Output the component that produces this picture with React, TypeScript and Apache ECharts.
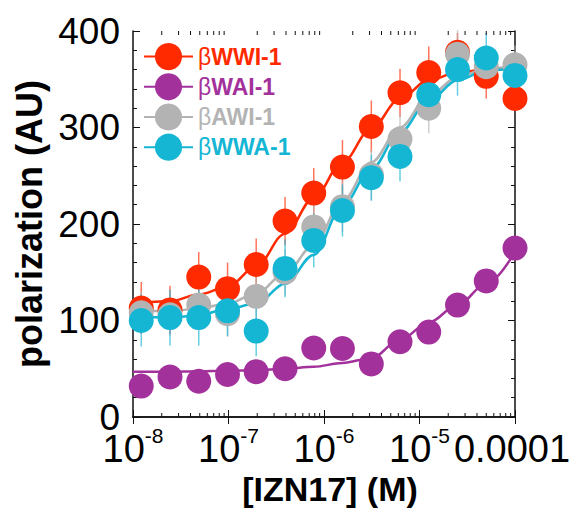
import React, { useEffect, useRef } from 'react';
import * as echarts from 'echarts';

const FONT = '"Liberation Sans", Arial, Helvetica, sans-serif';

// [IZN17] concentrations (M), two-fold dilution series
const concentrations = [1.22e-8, 2.44e-8, 4.88e-8, 9.77e-8, 1.95e-7, 3.91e-7, 7.81e-7, 1.56e-6, 3.13e-6, 6.25e-6, 1.25e-5, 2.5e-5, 5e-5, 1e-4];
// x positions at which the fitted curves were read
const curveX = [1e-8, 1.22e-8, 2.44e-8, 4.88e-8, 9.77e-8, 1.95e-7, 3.91e-7, 7.81e-7, 1.56e-6, 3.13e-6, 6.25e-6, 1.25e-5, 2.5e-5, 5e-5, 1e-4];

const seriesNames = ['βWWI-1', 'βWAI-1', 'βAWI-1', 'βWWA-1'];
const colors = ['#FF2A00', '#A3319B', '#B3B3B3', '#15B6D4'];

// measured polarization (AU)
const wwiValues = [113, 111, 145, 133, 158, 203, 232, 259, 301, 336, 357, 378, 353, 330];
const waiValues = [32, 41.5, 37, 44, 47, 50, 71.5, 71, 55, 78, 88, 116, 141, 175];
const awiValues = [108, 106, 116, 107, 125, 150, 197, 218, 251, 288, 320, 376, 363, 365];
const wwaValues = [100, 103, 103, 110, 89, 154, 183, 214, 248, 270, 334, 360, 372, 354];

// error bars (+/-)
const wwiErrors = [27, 25, 26, 27, 27, 25, 26, 28, 27, 25, 27, 20, 23, 12];
const waiErrors = [0, 0, 0, 0, 0, 0, 0, 0, 0, 0, 0, 0, 0, 0];
const awiErrors = [22, 22, 22, 24, 24, 24, 26, 26, 26, 26, 26, 25, 22, 20];
const wwaErrors = [27, 29, 29, 26, 26, 30, 28, 27, 24, 26, 26, 27, 26, 22];

// fitted curves
const wwiFit = [119, 119, 120, 127, 135, 156, 190, 227, 264, 299, 330, 349, 357, 360, 361];
const waiFit = [47, 47, 47, 47.5, 48, 48.5, 50, 52, 56, 61, 80, 98, 116, 138, 171];
const awiFit = [110, 110, 109.5, 112.5, 117.5, 128, 149, 178, 224, 264, 300, 333, 352, 361, 364];
const wwaFit = [103.5, 103.5, 103, 105.5, 112, 117.5, 138, 168, 219, 257, 295, 328, 349, 359, 362];

// axis ticks
const xMin = 1e-8;
const xMax = 1e-4;
const yMin = 0;
const yMax = 400;
const yInterval = 100;
const xMinorTicks = [
  2e-8, 3e-8, 4e-8, 5e-8, 6e-8, 7e-8, 8e-8, 9e-8,
  2e-7, 3e-7, 4e-7, 5e-7, 6e-7, 7e-7, 8e-7, 9e-7,
  2e-6, 3e-6, 4e-6, 5e-6, 6e-6, 7e-6, 8e-6, 9e-6,
  2e-5, 3e-5, 4e-5, 5e-5, 6e-5, 7e-5, 8e-5, 9e-5,
];

const values = [wwiValues, waiValues, awiValues, wwaValues];
const errors = [wwiErrors, waiErrors, awiErrors, wwaErrors];
const fits = [wwiFit, waiFit, awiFit, wwaFit];

export default function App() {
  const ref = useRef<HTMLDivElement>(null);

  useEffect(() => {
    if (!ref.current) return;
    const chart = echarts.init(ref.current, undefined, { renderer: 'svg' });

    const lineSeries = seriesNames.map((name, i) => ({
      type: 'line',
      name,
      data: curveX.map((x, j) => [x, fits[i][j]]),
      smooth: 0.35,
      smoothMonotone: 'x',
      symbol: 'circle',
      showSymbol: false,
      color: colors[i],
      lineStyle: { width: 2.5, color: colors[i] },
      itemStyle: { color: colors[i] },
      z: 2,
      silent: true,
    }));

    const errorSeries = seriesNames.map((name, i) => ({
      type: 'custom',
      name: name + ' err',
      z: 1,
      silent: true,
      data: concentrations.map((x, j) => [x, values[i][j], errors[i][j]]),
      renderItem: (params: any, api: any) => {
        const x = api.value(0);
        const y = api.value(1);
        const e = api.value(2);
        if (!e) return null;
        const top = api.coord([x, y + e]);
        const bot = api.coord([x, y - e]);
        return {
          type: 'line',
          shape: { x1: top[0], y1: top[1], x2: bot[0], y2: bot[1] },
          style: { stroke: colors[i], lineWidth: 1.5, opacity: 0.65 },
        };
      },
    }));

    const scatterSeries = seriesNames.map((name, i) => ({
      type: 'scatter',
      name,
      data: concentrations.map((x, j) => [x, values[i][j]]),
      symbol: 'circle',
      symbolSize: 25,
      itemStyle: { color: colors[i], opacity: 1 },
      z: 3,
      silent: true,
    }));

    const minorTickSeries = {
      type: 'custom',
      name: 'minor ticks',
      silent: true,
      z: 4,
      data: xMinorTicks.map((x) => [x, yMin]),
      renderItem: (params: any, api: any) => {
        const x = api.value(0);
        const b = api.coord([x, yMin]);
        const t = api.coord([x, yMax]);
        return {
          type: 'group',
          children: [
            { type: 'line', shape: { x1: b[0], y1: b[1], x2: b[0], y2: b[1] - 4 }, style: { stroke: '#111', lineWidth: 1 } },
            { type: 'line', shape: { x1: t[0], y1: t[1], x2: t[0], y2: t[1] + 4 }, style: { stroke: '#111', lineWidth: 1 } },
          ],
        };
      },
    };

    const axisLine = { show: true, lineStyle: { color: '#111', width: 1.5 } };
    const tick = { show: true, inside: true, length: 7, lineStyle: { color: '#111', width: 1 } };
    const minorTick = { show: true, splitNumber: 5, length: 4, lineStyle: { color: '#111', width: 1 } };

    const legendRich: Record<string, any> = {};
    colors.forEach((c, i) => {
      legendRich['b' + i] = { fontWeight: 'normal', fontSize: 23, fontFamily: FONT, color: c };
    });

    const option: any = {
      animation: false,
      backgroundColor: '#fff',
      grid: {
        left: 133,
        top: 31,
        width: 382,
        height: 386,
        containLabel: false,
        outerBoundsMode: 'none',
      },
      legend: {
        orient: 'vertical',
        left: 143,
        top: 43,
        itemWidth: 49,
        itemHeight: 34,
        itemGap: 3,
        padding: 0,
        selectedMode: false,
        data: seriesNames.map((n, i) => ({ name: n, textStyle: { color: colors[i] } })),
        formatter: (name: string) => {
          const i = seriesNames.indexOf(name);
          return `{b${i}|β}` + name.slice(1);
        },
        textStyle: { fontSize: 23, fontWeight: 'bold', fontFamily: FONT, rich: legendRich },
      },
      xAxis: [
        {
          type: 'log',
          logBase: 10,
          min: xMin,
          max: xMax,
          position: 'bottom',
          axisLine,
          axisTick: tick,
          splitLine: { show: false },
          name: '[IZN17] (M)',
          nameLocation: 'middle',
          nameGap: 55,
          nameMoveOverlap: false,
          nameTextStyle: { fontSize: 34, fontWeight: 'bold', fontFamily: FONT, color: '#000', padding: [0, 0, 0, 12] },
          axisLabel: {
            show: true,
            margin: 6,
            fontSize: 38,
            lineHeight: 52,
            fontFamily: FONT,
            color: '#000',
            formatter: (v: number) => {
              const exp = Math.round(Math.log10(v));
              if (exp === -4) return '{m|0.0001}';
              return `10{s|${exp}}`;
            },
            rich: {
              s: { fontSize: 21, fontFamily: FONT, color: '#000', padding: [0, 0, 28, 0] },
              m: { fontSize: 38, fontFamily: FONT, color: '#000', padding: [0, 6, 0, 0] },
            },
          },
        },
        {
          type: 'log',
          logBase: 10,
          min: xMin,
          max: xMax,
          position: 'top',
          axisLine,
          axisTick: tick,
          axisLabel: { show: false },
          splitLine: { show: false },
        },
      ],
      yAxis: [
        {
          type: 'value',
          min: yMin,
          max: yMax,
          interval: yInterval,
          position: 'left',
          axisLine,
          axisTick: tick,
          minorTick,
          splitLine: { show: false },
          minorSplitLine: { show: false },
          name: 'polarization (AU)',
          nameLocation: 'middle',
          nameGap: 82,
          nameTextStyle: { fontSize: 36, fontWeight: 'bold', fontFamily: FONT, color: '#000' },
          axisLabel: { show: true, margin: 13, fontSize: 37, fontFamily: FONT, color: '#000' },
        },
        {
          type: 'value',
          min: yMin,
          max: yMax,
          interval: yInterval,
          position: 'right',
          axisLine,
          axisTick: tick,
          minorTick,
          splitLine: { show: false },
          minorSplitLine: { show: false },
          axisLabel: { show: false },
        },
      ],
      series: [...lineSeries, ...errorSeries, ...scatterSeries, minorTickSeries],
    };

    chart.setOption(option);
    return () => chart.dispose();
  }, []);

  return (
    <div
      ref={ref}
      style={{ position: 'absolute', left: 0, top: 0, width: 570, height: 510, background: '#fff' }}
    />
  );
}
